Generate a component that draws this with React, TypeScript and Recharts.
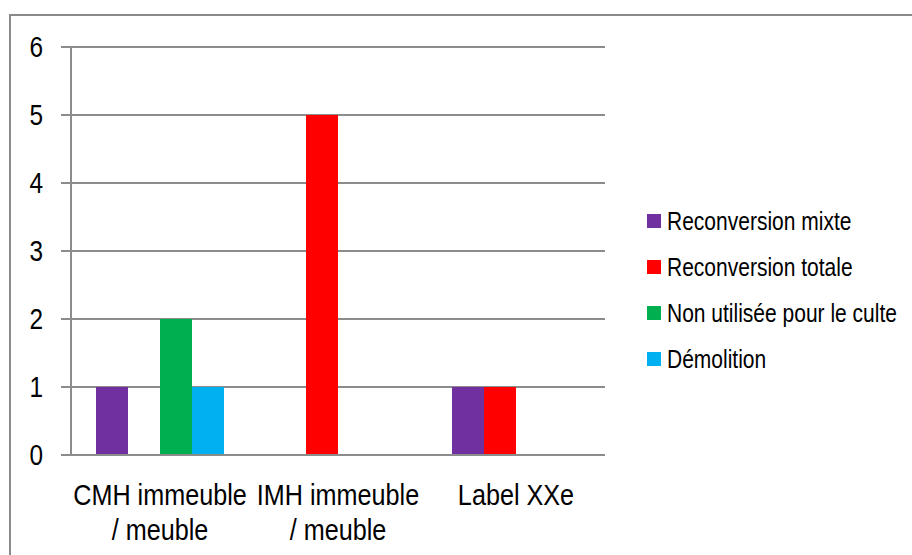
import React from 'react';
import { BarChart, Bar, XAxis, YAxis, CartesianGrid, Legend } from 'recharts';

const categories = ['CMH immeuble / meuble', 'IMH immeuble / meuble', 'Label XXe'];
const seriesNames = ['Reconversion mixte', 'Reconversion totale', 'Non utilisée pour le culte', 'Démolition'];
const seriesColors = ['#7030A0', '#FF0000', '#00B050', '#00B0F0'];
const reconversionMixte = [1, 0, 1];
const reconversionTotale = [0, 5, 1];
const nonUtilisee = [2, 0, 0];
const demolition = [1, 0, 0];
const yTicks = [0, 1, 2, 3, 4, 5, 6];
const edgeTicks = [0, 1, 2, 3];

const seriesValues = [reconversionMixte, reconversionTotale, nonUtilisee, demolition];
const data = categories.map((c, i) => {
  const row: Record<string, any> = { name: c };
  seriesNames.forEach((s, j) => {
    row['s' + j] = seriesValues[j][i];
  });
  return row;
});

const FONT = '"Liberation Sans", Arial, sans-serif';
const NARROW = 0.84;
const GRID = '#8c8c8c';

const squeeze = (x: number) => `translate(${x},0) scale(${NARROW},1) translate(${-x},0)`;

const CategoryTick = (props: any) => {
  const { x, y, payload } = props;
  const label: string = payload.value;
  const idx = label.indexOf(' / ');
  const lines = idx >= 0 ? [label.slice(0, idx), label.slice(idx + 1)] : [label];
  return (
    <text x={x} y={y} textAnchor="middle" fontFamily={FONT} fontSize={30} fill="#000" transform={squeeze(x)}>
      {lines.map((l, i) => (
        <tspan key={i} x={x} dy={i === 0 ? 42 : 35}>
          {l}
        </tspan>
      ))}
    </text>
  );
};

const ValueTick = (props: any) => {
  const { x, y, payload } = props;
  return (
    <text x={x} y={y} dy={10} textAnchor="end" fontFamily={FONT} fontSize={29} fill="#000" transform={squeeze(x)}>
      {payload.value}
    </text>
  );
};

const LegendContent = () => (
  <div style={{ fontFamily: FONT, fontSize: 25, color: '#000' }}>
    {seriesNames.map((n, i) => (
      <div key={n} style={{ display: 'flex', alignItems: 'center', height: 46 }}>
        <span
          style={{
            display: 'inline-block',
            flexShrink: 0,
            width: 14,
            height: 14,
            background: seriesColors[i],
            marginRight: 6,
          }}
        />
        <span
          style={{
            lineHeight: '46px',
            whiteSpace: 'nowrap',
            display: 'inline-block',
            transform: `scaleX(${NARROW})`,
            transformOrigin: 'left center',
          }}
        >
          {n}
        </span>
      </div>
    ))}
  </div>
);

export default function App() {
  return (
    <div style={{ position: 'absolute', left: 0, top: 0, width: 912, height: 555, overflow: 'hidden', background: '#fff' }}>
      <div
        style={{
          position: 'absolute',
          left: 9,
          top: 14,
          width: 960,
          height: 600,
          border: '2px solid #8a8a8a',
          boxSizing: 'border-box',
        }}
      />
      <div style={{ position: 'absolute', left: 0, top: 0 }}>
        <BarChart
          width={912}
          height={555}
          data={data}
          margin={{ top: 47, right: 307, bottom: 0, left: 0 }}
          barGap={0}
          barCategoryGap={25}
        >
          <CartesianGrid horizontal vertical={false} stroke={GRID} strokeWidth={2} />
          <XAxis
            xAxisId="edges"
            type="number"
            domain={[0, 3]}
            ticks={edgeTicks}
            tick={false}
            tickSize={10}
            tickLine={{ stroke: GRID, strokeWidth: 2 }}
            axisLine={false}
            height={0}
          />
          <XAxis
            dataKey="name"
            tick={<CategoryTick />}
            tickLine={false}
            axisLine={{ stroke: GRID, strokeWidth: 2 }}
            height={100}
            interval={0}
          />
          <YAxis
            domain={[0, 6]}
            ticks={yTicks}
            width={71}
            tickSize={10}
            tickMargin={18}
            tickLine={{ stroke: GRID, strokeWidth: 2 }}
            axisLine={{ stroke: GRID, strokeWidth: 2 }}
            tick={<ValueTick />}
            interval={0}
          />
          <Legend
            layout="vertical"
            align="center"
            verticalAlign="middle"
            content={<LegendContent />}
            wrapperStyle={{ left: 647, top: 198, width: 265 }}
          />
          {seriesNames.map((n, i) => (
            <Bar key={n} dataKey={'s' + i} name={n} fill={seriesColors[i]} isAnimationActive={false} />
          ))}
        </BarChart>
      </div>
    </div>
  );
}
